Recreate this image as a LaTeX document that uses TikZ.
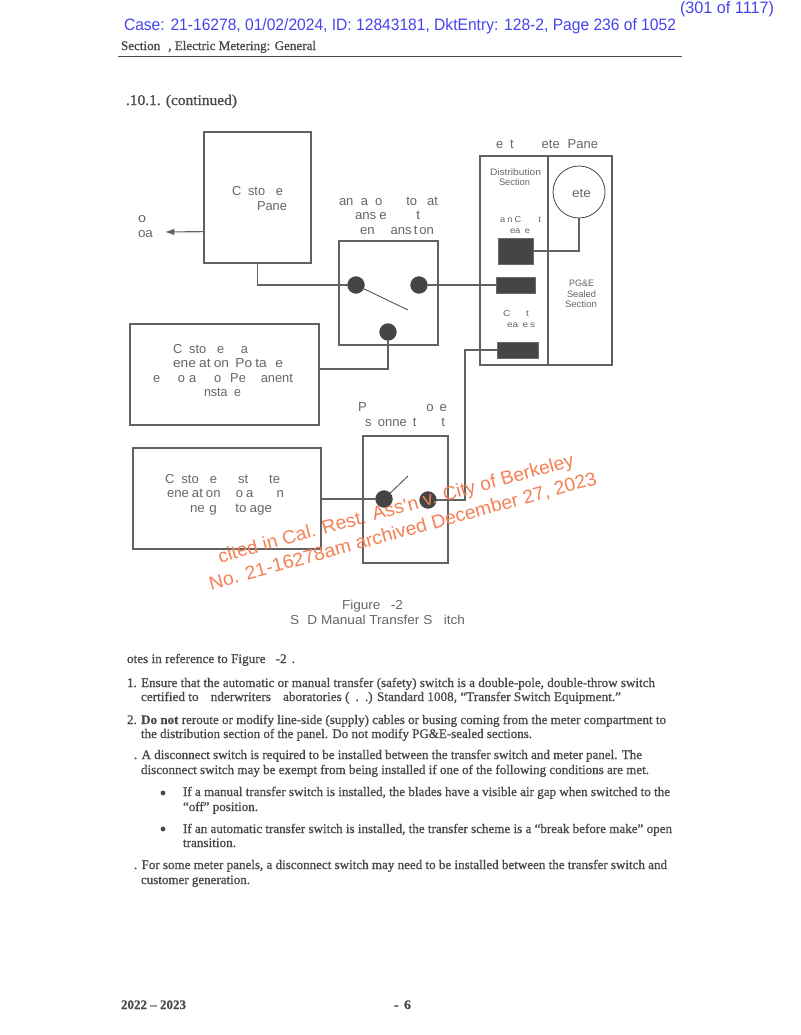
\documentclass[tikz,border=0pt]{standalone}
\usepackage{graphicx}
\usepackage{fontspec}
\setmainfont[FakeBold=0.9,BoldFont={Liberation Serif Bold},BoldFeatures={FakeBold=0.4}]{Liberation Serif}
\setsansfont{Liberation Sans}
\usetikzlibrary{arrows.meta}
\definecolor{ink}{HTML}{666666}
\definecolor{body}{HTML}{484848}
\definecolor{wire}{HTML}{626262}
\definecolor{dark}{HTML}{454545}
\definecolor{stamp}{HTML}{4545F0}
\definecolor{water}{HTML}{F58055}
\newsavebox\fitbox
\newcommand{\fit}[2]{\sbox\fitbox{#2}\pgfmathsetmacro\fitratio{#1*0.75/\the\wd\fitbox}\scalebox{\fitratio}[1]{\usebox\fitbox}}
\newcommand{\gp}[1]{\hspace{#1\dimexpr0.75pt\relax}}
\tikzset{
 x=0.75pt,y=-0.75pt,
 txt/.style={anchor=base west,inner sep=0pt,outer sep=0pt},
 sl/.style={txt,text=ink,font=\sffamily\fontsize{9.75}{12}\selectfont},
 sm/.style={txt,text=ink,font=\sffamily\fontsize{7}{9}\selectfont},
 sx/.style={txt,text=ink,font=\sffamily\fontsize{6.4}{8}\selectfont},
 nt/.style={txt,text=body,font=\fontsize{9.8}{11}\selectfont},
 hd/.style={txt,text=stamp,font=\sffamily\fontsize{12.4}{14}\selectfont},
 wm/.style={txt,text=water,rotate=15.3,font=\sffamily\fontsize{14.2}{16}\selectfont},
 panelbox/.style={draw=wire,line width=0.85pt,fill=none,anchor=north west,inner sep=0pt,outer sep=0pt},
 bar/.style={draw=dark!80!white,fill=dark,line width=0.6pt,anchor=north west,inner sep=0pt,outer sep=0pt},
 dot/.style={circle,draw=dark,fill=dark,line width=0.5pt,minimum size=12.5pt,inner sep=0pt,outer sep=0pt},
 wireline/.style={draw=wire,line width=0.85pt},
 blade/.style={draw=dark,line width=0.6pt},
}
\begin{document}
\begin{tikzpicture}
\useasboundingbox (0,0) rectangle (800,1035);
\fill[white] (0,0) rectangle (800,1035);
% stamp + header
\node[hd] (stampA) at (124,30) {\fit{552}{Case: 21-16278, 01/02/2024, ID: 12843181, DktEntry: 128-2, Page 236 of 1052}};
\node[hd] (stampB) at (680,13) {\fit{94}{(301 of 1117)}};
\node[nt] (hdr) at (121,50) {\fit{195}{Section\gp{8}, Electric Metering: General}};
\coordinate (ruleL) at (118,56.5); \coordinate (ruleR) at (682,56.5);
\draw[draw=body,line width=0.7pt] (ruleL) -- (ruleR);
\node[nt,font=\fontsize{11.2}{12}\selectfont] (sec) at (126,105) {\fit{111}{.10.1. (continued)}};
% boxes
\node[panelbox,minimum width=80.25pt,minimum height=98.25pt] (cust) at (204,132) {};
\node[panelbox,minimum width=74.25pt,minimum height=78pt] (mts) at (339,241) {};
\node[panelbox,minimum width=141.75pt,minimum height=75.75pt] (port) at (130,324) {};
\node[panelbox,minimum width=141pt,minimum height=75.75pt] (dist) at (133,448) {};
\node[panelbox,minimum width=63.75pt,minimum height=95.25pt] (disc) at (363,436) {};
\node[panelbox,minimum width=99pt,minimum height=156.75pt] (meter) at (480,156) {};
\coordinate (divT) at (548,156); \coordinate (divB) at (548,365);
\draw[wireline] (divT) -- (divB);
\node[circle,draw=dark,line width=0.6pt,minimum size=39pt,inner sep=0pt,outer sep=0pt] (mcirc) at (579,192) {};
\node[bar,minimum width=26.25pt,minimum height=19.5pt] (barA) at (498,238) {};
\node[bar,minimum width=29.25pt,minimum height=12pt] (barB) at (496,277) {};
\node[bar,minimum width=30.75pt,minimum height=12pt] (barC) at (497,342) {};
% dots
\node[dot] (d1) at (356,285) {};
\node[dot] (d2) at (419,285) {};
\node[dot] (d3) at (388,332) {};
\node[dot] (d4) at (384,499) {};
\node[dot] (d5) at (428,500) {};
\coordinate (b1) at (408,310);
\coordinate (b2) at (408,476);
\coordinate (arrEnd) at (165,232);
\coordinate (bend) at (465,350);
% connectors
\draw[wireline,-{Latex[length=7pt,width=5pt]}] ([yshift=-25.6pt]cust.west) -- (arrEnd);
\draw[wireline] (cust.south) |- (d1.west);
\draw[blade] (d1) -- (b1);
\draw[wireline] (d2.east) -- (barB.west |- d2.east);
\draw[wireline] (d3.south) |- ([yshift=4.1pt]port.east);
\draw[wireline] (mcirc.south) |- (barA.east);
\draw[wireline] (barC.west) -| (bend) |- (d5.east);
\draw[wireline] (dist.east |- d4.west) -- (d4.west);
\draw[blade] (d4) -- (b2);
% labels in diagram
\node[sl] (t1) at (232,195.5) {\fit{51}{C\gp{7}sto\gp{11}e}};
\node[sl] (t2) at (257,210.5) {\fit{30}{Pane}};
\node[sl] (t3) at (138,222.5) {\fit{8}{o}};
\node[sl] (t4) at (138,237.5) {\fit{15}{oa}};
\node[sl] (t5) at (339,205.5) {\fit{99}{an\gp{7.5}a\gp{7}o\gp{24}to\gp{10}at}};
\node[sl] (t6) at (355,219.5) {\fit{65}{ans\gp{3}e\gp{29}t}};
\node[sl] (t7) at (360,234.5) {\fit{74}{en\gp{16}ans\gp{2}t\gp{2}on}};
\node[sl] (t8) at (173,353.5) {\fit{75}{C\gp{7}sto\gp{11}e\gp{17}a}};
\node[sl] (t9) at (173,367.5) {\fit{110}{ene\gp{3}at\gp{3}on\gp{6}Po\gp{3}ta\gp{8}e}};
\node[sl] (t10) at (153,382.5) {\fit{140}{e\gp{18}o\gp{4}a\gp{18}o\gp{9}Pe\gp{15}anent}};
\node[sl] (t11) at (204,396.5) {\fit{37}{nsta\gp{7}e}};
\node[sl] (t12) at (358,411.5) {\fit{89}{P\gp{59}o\gp{6}e}};
\node[sl] (t13) at (365,426.5) {\fit{80}{s\gp{6.5}onne\gp{6}t\gp{25}t}};
\node[sl] (t14) at (165,483.5) {\fit{115}{C\gp{7}sto\gp{11}e\gp{21}st\gp{21}te}};
\node[sl] (t15) at (167,497.5) {\fit{117}{ene\gp{3}at\gp{3}on\gp{15}o\gp{3}a\gp{23}n}};
\node[sl] (t16) at (190,512.5) {\fit{82}{ne\gp{4.5}g\gp{18}to\gp{3}age}};
\node[sl] (t17) at (496,148.5) {\fit{102}{e\gp{7}t\gp{28}ete\gp{8}Pane}};
\node[sl] (t18) at (342,609.5) {\fit{61}{Figure\gp{10}-2}};
\node[sl] (t19) at (290,624.5) {\fit{175}{S\gp{8}D Manual Transfer S\gp{11}itch}};
\node[sl,font=\sffamily\fontsize{9.4}{12}\selectfont] (t20) at (572,197) {\fit{19}{ete}};
\node[sm] (t21) at (490,175) {\fit{51}{Distribution}};
\node[sm] (t22) at (499,185.5) {\fit{31}{Section}};
\node[sx] (t23) at (500,222) {\fit{41}{a\gp{2}n\gp{2}C\gp{16}t}};
\node[sx] (t24) at (510,233) {\fit{20}{ea\gp{4}e}};
\node[sm] (t25) at (569,286.5) {\fit{25}{PG\&E}};
\node[sm] (t26) at (567,297) {\fit{29}{Sealed}};
\node[sm] (t27) at (565,307.5) {\fit{32}{Section}};
\node[sx] (t28) at (503,316.5) {\fit{26}{C\gp{13}t}};
\node[sx] (t29) at (507,327.5) {\fit{28}{ea\gp{4}e\gp{1.5}s}};
% notes
\node[nt] (n0) at (127,663) {\fit{168}{otes in reference to Figure\gp{10}-2\gp{5}.}};
\node[nt] (n1) at (127,687) {\fit{528}{1. Ensure that the automatic or manual transfer (safety) switch is a double-pole, double-throw switch}};
\node[nt] (n2) at (141,701) {\fit{480}{certified to\gp{12}nderwriters\gp{12}aboratories (\gp{6}.\gp{6}.) Standard 1008, “Transfer Switch Equipment.”}};
\node[nt] (n3) at (127,724) {\fit{539}{2. \textbf{Do not} reroute or modify line-side (supply) cables or busing coming from the meter compartment to}};
\node[nt] (n4) at (141,738) {\fit{391}{the distribution section of the panel. Do not modify PG\&E-sealed sections.}};
\node[nt] (n5) at (134,759) {\fit{508}{. A disconnect switch is required to be installed between the transfer switch and meter panel. The}};
\node[nt] (n6) at (141,774) {\fit{508}{disconnect switch may be exempt from being installed if one of the following conditions are met.}};
\node[nt] (n7) at (183,796) {\fit{487}{If a manual transfer switch is installed, the blades have a visible air gap when switched to the}};
\node[nt] (n8) at (183,811) {\fit{75}{“off” position.}};
\node[nt] (n9) at (183,833) {\fit{489}{If an automatic transfer switch is installed, the transfer scheme is a “break before make” open}};
\node[nt] (n10) at (183,847) {\fit{53}{transition.}};
\node[nt] (n11) at (134,869) {\fit{533}{. For some meter panels, a disconnect switch may need to be installed between the transfer switch and}};
\node[nt] (n12) at (141,884) {\fit{109}{customer generation.}};
\node[circle,fill=body,minimum size=3.6pt,inner sep=0pt] (bu1) at (163,793) {};
\node[circle,fill=body,minimum size=3.6pt,inner sep=0pt] (bu2) at (163,829) {};
% footer
\node[nt,font=\bfseries\fontsize{9.8}{11}\selectfont] (f1) at (121,1009) {\fit{65}{2022 – 2023}};
\node[nt,font=\bfseries\fontsize{9.8}{11}\selectfont] (f2) at (394,1009) {\fit{17}{-\gp{5}6}};
% watermark
\node[wm] (w1) at (220,563) {\fit{368}{cited in Cal. Rest. Ass'n v. City of Berkeley}};
\node[wm] (w2) at (211,590) {\fit{401}{No. 21-16278am archived December 27, 2023}};
\end{tikzpicture}
\end{document}
